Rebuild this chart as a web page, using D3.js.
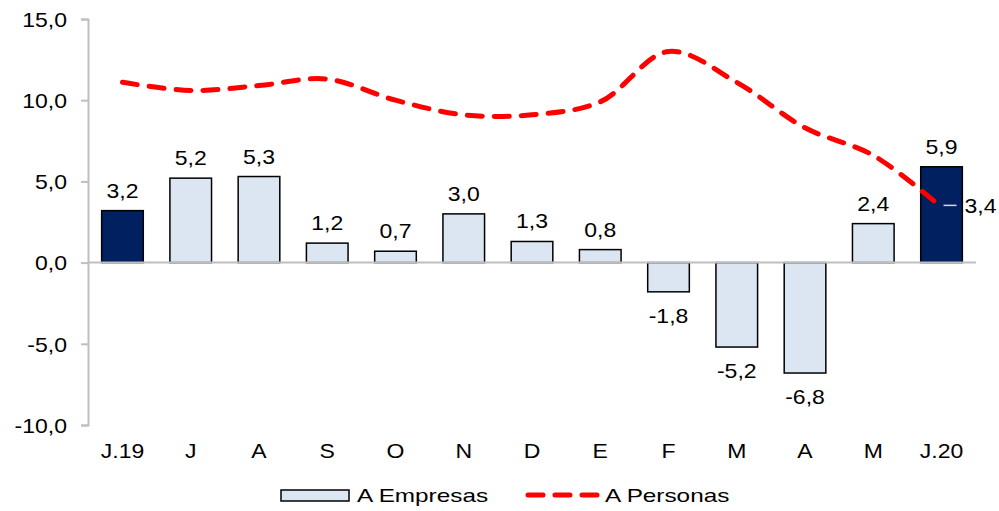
<!DOCTYPE html>
<html>
<head>
<meta charset="utf-8">
<script src="https://cdn.jsdelivr.net/npm/d3@7"></script>
<style>
  body { margin: 0; background: #fff; }
  text { font-family: "Liberation Sans", Arial, sans-serif; fill: #000; }
</style>
</head>
<body>
<div id="chart"></div>
<script>
// données
const categories = ["J.19", "J", "A", "S", "O", "N", "D", "E", "F", "M", "A ", "M ", "J.20"];
const empresas = [3.2, 5.2, 5.3, 1.2, 0.7, 3.0, 1.3, 0.8, -1.8, -5.2, -6.8, 2.4, 5.9];
const personas = [11.1, 10.6, 10.9, 11.3, 10.0, 9.1, 9.1, 9.9, 13.0, 11.1, 8.3, 6.6, 3.4];
const highlight = ["J.19", "J.20"];
const yTicks = [-10, -5, 0, 5, 10, 15];

const width = 999, height = 511;
const margin = {top: 19, right: 23, bottom: 86, left: 88};
const sx = 1.15;   // étirement horizontal du texte (comme l'image d'origine)
const sxLeg = 1.28;

const svg = d3.select("#chart").append("svg")
  .attr("width", width)
  .attr("height", height);

const x = d3.scaleBand()
  .domain(categories)
  .range([margin.left, width - margin.right])
  .paddingInner(0.39)
  .paddingOuter(0.2);

const y = d3.scaleLinear()
  .domain([-10, 15])
  .range([height - margin.bottom, margin.top]);

const fmt = v => d3.format(".1f")(v).replace(".", ",").replace("\u2212", "-");

// petit utilitaire : place un texte étiré en x
function place(sel, fx, fy, s) {
  sel.attr("x", 0).attr("y", 0)
    .attr("transform", (d, i) => `translate(${fx(d, i)},${fy(d, i)}) scale(${s},1)`);
}

// axe Y
const yAxis = svg.append("g")
  .attr("transform", `translate(${margin.left},0)`)
  .call(d3.axisLeft(y).tickValues(yTicks).tickFormat(fmt).tickSize(7));
yAxis.select(".domain").attr("stroke", "#bfbfbf").attr("stroke-width", 2);
yAxis.selectAll(".tick line").attr("stroke", "#bfbfbf").attr("stroke-width", 2);
yAxis.selectAll(".tick text")
  .style("font-size", "20px").attr("fill", "#000")
  .attr("dy", "0.36em")
  .call(place, () => -21, () => 0, sx);

// barres
svg.append("g").selectAll("rect")
  .data(empresas)
  .enter()
  .append("rect")
  .attr("x", (d, i) => x(categories[i]))
  .attr("y", d => y(Math.max(0, d)))
  .attr("width", x.bandwidth())
  .attr("height", d => Math.abs(y(d) - y(0)))
  .attr("fill", (d, i) => highlight.includes(categories[i]) ? "#002060" : "#dce6f2")
  .attr("stroke", "#000")
  .attr("stroke-width", 1.5);

// ligne du zéro
svg.append("line")
  .attr("x1", margin.left).attr("x2", width - margin.right)
  .attr("y1", y(0)).attr("y2", y(0))
  .attr("stroke", "#bfbfbf").attr("stroke-width", 2);

// étiquettes des barres
svg.append("g").selectAll("text")
  .data(empresas)
  .enter()
  .append("text")
  .attr("text-anchor", "middle")
  .style("font-size", "20px")
  .text(d => fmt(d))
  .call(place,
    (d, i) => x(categories[i]) + x.bandwidth() / 2,
    d => d >= 0 ? y(d) - 13 : y(d) + 31, sx);

// catégories
svg.append("g").selectAll("text")
  .data(categories)
  .enter()
  .append("text")
  .attr("text-anchor", "middle")
  .style("font-size", "20px")
  .text(d => d.trim())
  .call(place, d => x(d) + x.bandwidth() / 2, () => 458, sx);

// ligne Personas
const line = d3.line()
  .x((d, i) => x(categories[i]) + x.bandwidth() / 2)
  .y(d => y(d))
  .curve(d3.curveCatmullRom.alpha(0.5));

svg.append("path")
  .datum(personas)
  .attr("d", line)
  .attr("fill", "none")
  .attr("stroke", "#ff0000")
  .attr("stroke-width", 5)
  .attr("stroke-linecap", "round")
  .attr("stroke-dasharray", "15,12");

// étiquette dernière valeur
const last = personas.length - 1;
const lx = x(categories[last]) + x.bandwidth() / 2;
svg.append("line")
  .attr("x1", lx + 2).attr("x2", lx + 15)
  .attr("y1", y(personas[last]) - 2).attr("y2", y(personas[last]) - 2)
  .attr("stroke", "#d9d9d9").attr("stroke-width", 1.5);
svg.append("text")
  .style("font-size", "20px")
  .text(fmt(personas[last]))
  .call(place, () => lx + 23, () => y(personas[last]) + 6, sx);

// légende
const leg = svg.append("g");
leg.append("rect")
  .attr("x", 281).attr("y", 490)
  .attr("width", 68).attr("height", 11)
  .attr("fill", "#dce6f2").attr("stroke", "#000").attr("stroke-width", 1.5);
leg.append("text")
  .style("font-size", "19px")
  .text("A Empresas")
  .call(place, () => 357, () => 502, sxLeg);
leg.append("line")
  .attr("x1", 528).attr("x2", 598)
  .attr("y1", 495).attr("y2", 495)
  .attr("stroke", "#ff0000").attr("stroke-width", 5)
  .attr("stroke-linecap", "round")
  .attr("stroke-dasharray", "15,12");
leg.append("text")
  .style("font-size", "19px")
  .text("A Personas")
  .call(place, () => 605, () => 502, sxLeg);
</script>
</body>
</html>
